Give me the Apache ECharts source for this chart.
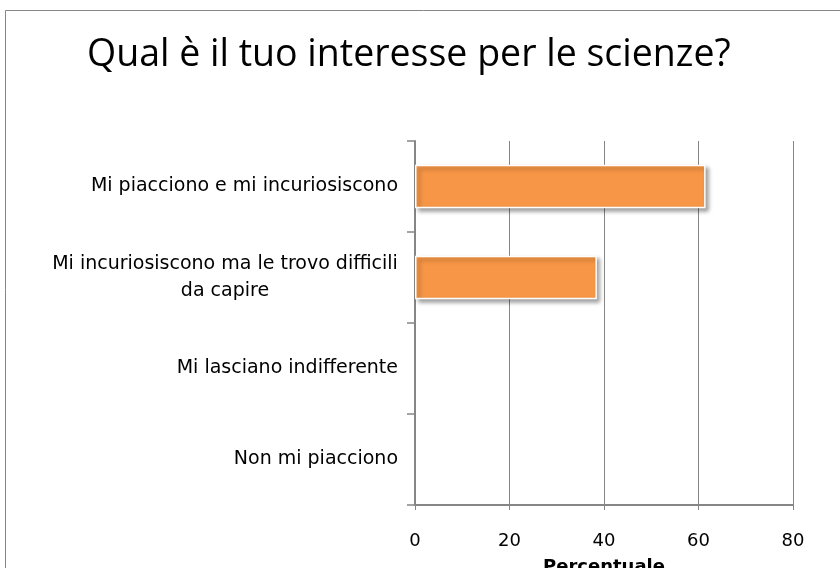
<!DOCTYPE html>
<html>
<head>
<meta charset="utf-8">
<script src="https://cdn.jsdelivr.net/npm/echarts@6/dist/echarts.min.js"></script>
<style>
  html, body { margin: 0; padding: 0; background: #fff; }
  #chart { width: 840px; height: 568px; }
</style>
</head>
<body>
<div id="chart"></div>
<script>
const categories = [
  'Mi piacciono e mi incuriosiscono',
  'Mi incuriosiscono ma le trovo difficili\nda capire',
  'Mi lasciano indifferente',
  'Non mi piacciono'
]
const percentuali = [61.5, 38.5, 0, 0]
const xTicks = [0, 20, 40, 60, 80]

const labelFamily = 'DejaVu Sans'
const labelSize = 19
const gray = '#868686'

// width of the longest first line, so the wrapped label can be centred in it
const measure = document.createElement('canvas').getContext('2d')
measure.font = labelSize + 'px "' + labelFamily + '"'
const lineWidth = Math.ceil(measure.measureText('Mi incuriosiscono ma le trovo difficili').width)

const chart = echarts.init(document.getElementById('chart'))

chart.setOption({
  animation: false,
  title: {
    text: 'Qual è il tuo interesse per le scienze?',
    left: 82,
    top: 31,
    textStyle: {
      fontFamily: 'Open Sans',
      fontWeight: 'normal',
      fontSize: 37.5,
      color: '#000'
    }
  },
  graphic: [{
    type: 'rect',
    shape: { x: 5.5, y: 10.5, width: 900, height: 700 },
    style: { fill: 'none', stroke: gray, lineWidth: 1 },
    silent: true
  }],
  grid: {
    left: 415,
    right: 47,
    top: 141,
    bottom: 63,
    outerBoundsMode: 'none'
  },
  xAxis: {
    type: 'value',
    min: xTicks[0],
    max: xTicks[xTicks.length - 1],
    interval: 20,
    name: 'Percentuale',
    nameLocation: 'middle',
    nameGap: 53,
    nameTextStyle: {
      fontFamily: labelFamily,
      fontWeight: 'bold',
      fontSize: 18,
      color: '#000'
    },
    axisLine: { show: true, lineStyle: { color: gray, width: 2 } },
    axisTick: { show: true, length: 5, lineStyle: { color: gray } },
    axisLabel: {
      margin: 27,
      fontFamily: labelFamily,
      fontSize: 18,
      color: '#000'
    },
    splitLine: { show: true, lineStyle: { color: gray, width: 1 } }
  },
  yAxis: {
    type: 'category',
    inverse: true,
    data: categories,
    axisLine: { show: true, lineStyle: { color: gray, width: 2 } },
    axisTick: { show: true, length: 8, lineStyle: { color: gray, width: 1.5 } },
    axisLabel: {
      margin: 17,
      fontFamily: labelFamily,
      fontSize: labelSize,
      color: '#000',
      lineHeight: 27,
      formatter: function (value) {
        if (value.indexOf('\n') < 0) return value
        return value.split('\n').map(s => '{c|' + s + '}').join('\n')
      },
      rich: {
        c: {
          width: lineWidth,
          align: 'center',
          fontFamily: labelFamily,
          fontSize: labelSize,
          lineHeight: 27,
          color: '#000'
        }
      }
    }
  },
  series: [{
    type: 'bar',
    // empty answers draw nothing, not even border or shadow
    data: percentuali.map(v => v === 0
      ? { value: v, itemStyle: { borderWidth: 0, shadowBlur: 0, shadowOffsetX: 0, shadowOffsetY: 0, opacity: 0 } }
      : v),
    barWidth: '48%',
    itemStyle: {
      color: '#F79646',
      borderColor: '#fff',
      borderWidth: 1.5,
      shadowColor: 'rgba(0,0,0,0.35)',
      shadowBlur: 4,
      shadowOffsetX: 3,
      shadowOffsetY: 3
    }
  }]
})
</script>
</body>
</html>
